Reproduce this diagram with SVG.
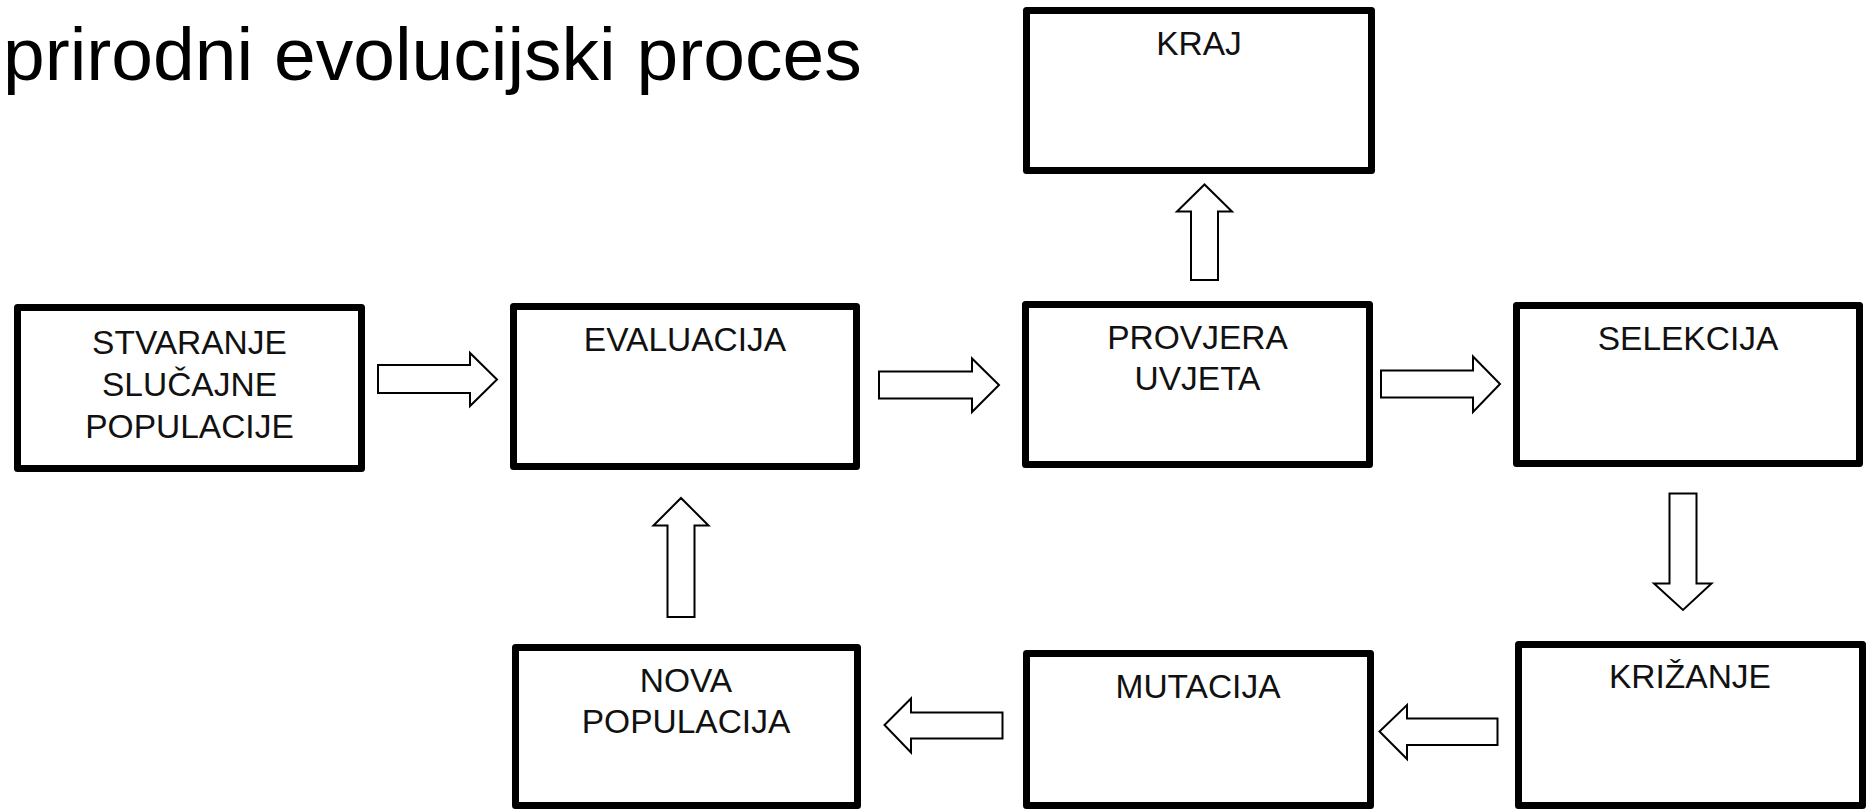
<svg xmlns="http://www.w3.org/2000/svg" width="1872" height="811" viewBox="0 0 1872 811">
<style>
.box{fill:#fff;stroke:#000;stroke-width:7;stroke-linejoin:round}
.lbl{font-family:"Liberation Sans",Arial,sans-serif;font-size:33.5px;fill:#111;text-anchor:middle}
.arr{fill:#fff;stroke:#000;stroke-width:2;stroke-linejoin:miter}
.title{font-family:"Liberation Sans",Arial,sans-serif;font-size:75px;fill:#000}
</style>
<rect width="1872" height="811" fill="#fff"/>
<text class="title" x="3" y="80">prirodni evolucijski proces</text>

<g id="n-stvaranje">
<rect class="box" x="17.5" y="307.5" width="344" height="161"/>
<text class="lbl" x="189.5" y="354">STVARANJE</text>
<text class="lbl" x="189.5" y="396">SLUČAJNE</text>
<text class="lbl" x="189.5" y="438">POPULACIJE</text>
</g>
<g id="n-evaluacija">
<rect class="box" x="513.5" y="306.5" width="343" height="160"/>
<text class="lbl" x="685" y="351">EVALUACIJA</text>
</g>
<g id="n-kraj">
<rect class="box" x="1026.5" y="10.5" width="345" height="160"/>
<text class="lbl" x="1199" y="55">KRAJ</text>
</g>
<g id="n-provjera">
<rect class="box" x="1025.5" y="304.5" width="344" height="160"/>
<text class="lbl" x="1197.5" y="349">PROVJERA</text>
<text class="lbl" x="1197.5" y="390">UVJETA</text>
</g>
<g id="n-selekcija">
<rect class="box" x="1516.5" y="305.5" width="343" height="158"/>
<text class="lbl" x="1688" y="350">SELEKCIJA</text>
</g>
<g id="n-krizanje">
<rect class="box" x="1518.5" y="644.5" width="344" height="161"/>
<text class="lbl" x="1690" y="688">KRIŽANJE</text>
</g>
<g id="n-mutacija">
<rect class="box" x="1026.5" y="653.5" width="344" height="152"/>
<text class="lbl" x="1198" y="698">MUTACIJA</text>
</g>
<g id="n-nova">
<rect class="box" x="515.5" y="647.5" width="342" height="158"/>
<text class="lbl" x="686" y="692">NOVA</text>
<text class="lbl" x="686" y="733">POPULACIJA</text>
</g>

<g id="connectors">
<path class="arr" d="M378,365 H470 V353 L497,379.5 L470,406 V393 H378 Z"/>
<path class="arr" d="M879,371.5 H972 V358.5 L999,385 L972,412 V398.5 H879 Z"/>
<path class="arr" d="M1381,370.5 H1473 V356.5 L1500,384 L1473,412 V397.5 H1381 Z"/>
<path class="arr" d="M1191,280 V211.5 H1177 L1204.5,184.5 L1232,211.5 H1218 V280 Z"/>
<path class="arr" d="M1669.5,493.5 V583.5 H1654 L1683,610 L1711.5,583.5 H1696.5 V493.5 Z"/>
<path class="arr" d="M1497.5,718.5 H1407 V705 L1379.5,731.5 L1407,759 V745 H1497.5 Z"/>
<path class="arr" d="M1002.5,712.5 H911 V698.5 L884.5,725 L911,752.5 V738.5 H1002.5 Z"/>
<path class="arr" d="M667.5,617 V525.5 H653.5 L681,498 L708.5,525.5 H694.5 V617 Z"/>
</g>
</svg>
